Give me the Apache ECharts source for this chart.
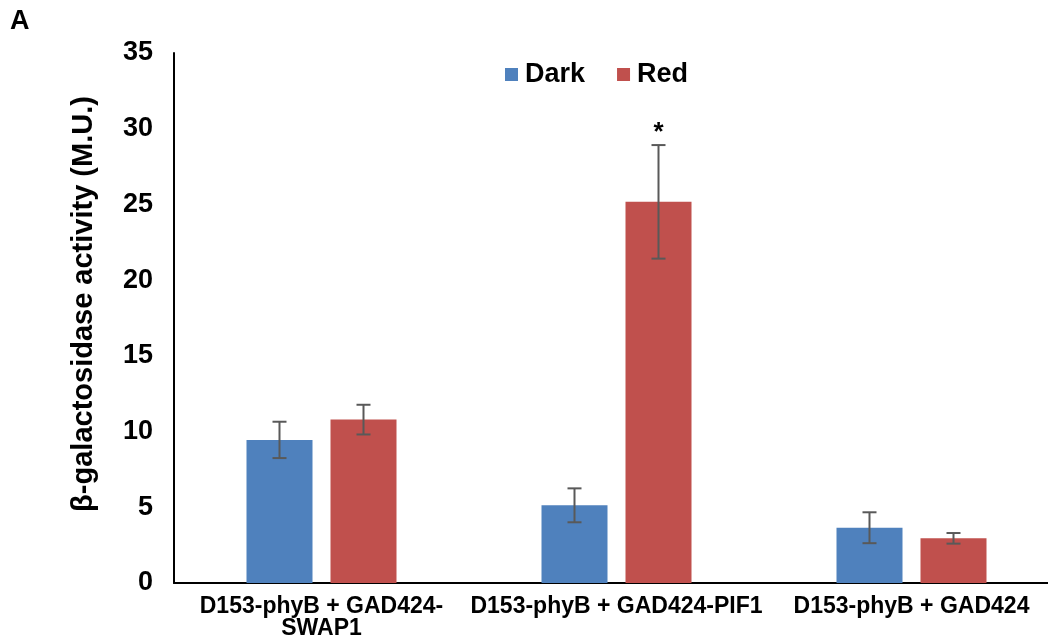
<!DOCTYPE html>
<html>
<head>
<meta charset="utf-8">
<script src="https://cdn.jsdelivr.net/npm/echarts@6/dist/echarts.min.js"></script>
<style>
  html, body { margin: 0; padding: 0; background: #fff; }
  #chart { width: 1048px; height: 643px; }
</style>
</head>
<body>
<div id="chart"></div>
<script>
// data
const categories = ['D153-phyB + GAD424-\nSWAP1', 'D153-phyB + GAD424-PIF1', 'D153-phyB + GAD424'];
const darkValues = [9.45, 5.13, 3.65];
const darkErrors = [1.2, 1.12, 1.02];
const redValues = [10.79, 25.17, 2.95];
const redErrors = [0.98, 3.75, 0.35];
const redMarks = ['', '*', ''];
const yTicks = { min: 0, max: 35, interval: 5 };

const FONT = '"Liberation Sans", Arial, Helvetica, sans-serif';
const BAR_W = 66;
const BAR_GAP = 18;

const chart = echarts.init(document.getElementById('chart'), null, { renderer: 'canvas' });

// error bar series: offset is -1 for the Dark bar, +1 for the Red bar
function errorSeries(name, values, errors, offset, color, marks) {
    return {
        name: name + ' err',
        type: 'custom',
        z: 5,
        silent: true,
        data: values.map((v, i) => [i, v - errors[i], v + errors[i]]),
        renderItem: (params, api) => {
            const i = api.value(0);
            const lo = api.coord([i, api.value(1)]);
            const hi = api.coord([i, api.value(2)]);
            const x = lo[0] + offset * (BAR_W + BAR_GAP) / 2;
            const cap = 7;
            const style = { stroke: color, lineWidth: 2 };
            const children = [
                { type: 'line', shape: { x1: x, y1: hi[1], x2: x, y2: lo[1] }, style },
                { type: 'line', shape: { x1: x - cap, y1: hi[1], x2: x + cap, y2: hi[1] }, style },
                { type: 'line', shape: { x1: x - cap, y1: lo[1], x2: x + cap, y2: lo[1] }, style }
            ];
            if (marks && marks[i]) {
                children.push({
                    type: 'text',
                    style: {
                        x: x, y: hi[1] + 1, text: marks[i],
                        font: 'bold 26px ' + FONT, fill: '#000',
                        align: 'center', verticalAlign: 'bottom'
                    }
                });
            }
            return { type: 'group', children };
        }
    };
}

const option = {
    animation: false,
    backgroundColor: '#fff',
    grid: { left: 174, top: 53, bottom: 60, width: 885, outerBoundsMode: 'none' },
    legend: {
        data: ['Dark', 'Red'],
        left: 500,
        top: 56,
        itemWidth: 13,
        itemHeight: 13,
        itemGap: 32,
        icon: 'rect',
        textStyle: { fontFamily: FONT, fontWeight: 'bold', fontSize: 27, color: '#000', padding: [0, 0, 0, 2] }
    },
    graphic: [
        {
            type: 'text', left: 10, top: 8,
            style: { text: 'A', font: 'bold 27px ' + FONT, fill: '#000' }
        },
        {
            type: 'text', x: 84, y: 304, rotation: Math.PI / 2,
            style: {
                text: 'β-galactosidase activity (M.U.)', font: 'bold 29px ' + FONT,
                fill: '#000', align: 'center', verticalAlign: 'middle'
            }
        }
    ],
    xAxis: {
        type: 'category',
        data: categories,
        axisLine: { lineStyle: { color: '#000', width: 2 } },
        axisTick: { show: false },
        axisLabel: {
            interval: 0, margin: 13, color: '#000',
            fontFamily: FONT, fontWeight: 'bold', fontSize: 23, lineHeight: 22
        }
    },
    yAxis: {
        type: 'value',
        min: yTicks.min,
        max: yTicks.max,
        interval: yTicks.interval,
        splitLine: { show: false },
        axisLine: { show: true, lineStyle: { color: '#000', width: 2 } },
        axisTick: { show: false },
        axisLabel: { margin: 21, color: '#000', fontFamily: FONT, fontWeight: 'bold', fontSize: 27 }
    },
    series: [
        {
            name: 'Dark', type: 'bar', data: darkValues,
            barWidth: BAR_W, barGap: (BAR_GAP / BAR_W * 100) + '%',
            itemStyle: { color: '#4F81BD' }
        },
        {
            name: 'Red', type: 'bar', data: redValues,
            barWidth: BAR_W,
            itemStyle: { color: '#C0504D' }
        },
        errorSeries('Dark', darkValues, darkErrors, -1, '#595959'),
        errorSeries('Red', redValues, redErrors, 1, '#595959', redMarks)
    ]
};

chart.setOption(option);
window.addEventListener('resize', chart.resize);
</script>
</body>
</html>
